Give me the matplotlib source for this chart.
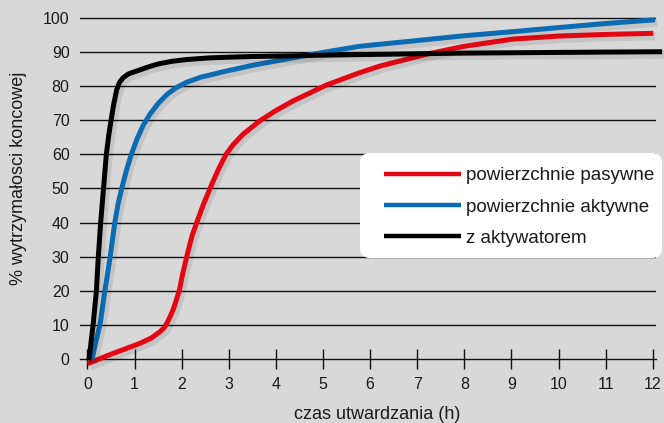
import matplotlib
matplotlib.use("Agg")
import matplotlib.pyplot as plt
import matplotlib.patheffects as pe
from matplotlib.patches import FancyBboxPatch
from matplotlib.transforms import IdentityTransform

plt.rcParams['font.family'] = ['Liberation Sans', 'DejaVu Sans']

# ---- data ----
x_ticks = list(range(0, 13))
y_ticks = list(range(0, 101, 10))

black_x = [0.03, 0.12, 0.19, 0.23, 0.28, 0.34, 0.40, 0.45, 0.50, 0.56, 0.62, 0.68, 0.76, 0.86,
           0.95, 1.04, 1.2, 1.35, 1.53, 1.8, 2.1, 2.59, 3.0, 3.5, 4.35, 5.0, 6.0, 7.0, 8.0,
           9.0, 10.0, 11.0, 12.2]
black_y = [-0.5, 10, 20, 30, 40, 50, 60, 65.5, 70, 75, 79, 81.2, 82.6, 83.6,
           84.1, 84.5, 85.3, 86.0, 86.7, 87.4, 87.9, 88.4, 88.6, 88.8, 89.0, 89.2, 89.4, 89.6, 89.8,
           89.9, 90.0, 90.1, 90.2]

blue_x = [0.09, 0.18, 0.27, 0.37, 0.48, 0.58, 0.65, 0.73, 0.83, 0.93, 1.05, 1.18, 1.32, 1.5,
          1.7, 1.88, 2.1, 2.4, 2.94, 3.5, 4.36, 5.0, 5.77, 6.21, 7.0, 8.0, 9.03, 10.0, 11.0, 12.05]
blue_y = [-0.4, 5, 10.3, 20, 29.8, 40, 45.5, 50.2, 55.5, 60, 64.5, 68.5, 71.7, 75,
          77.8, 79.6, 81.2, 82.7, 84.5, 86.2, 88.4, 90, 91.8, 92.4, 93.5, 94.9, 96.1, 97.3, 98.5, 99.6]

red_x = [0.0, 0.54, 1.1, 1.35, 1.53, 1.63, 1.70, 1.77, 1.84, 1.95, 2.02, 2.12, 2.22, 2.32, 2.46,
         2.65, 2.8, 2.94, 3.1, 3.3, 3.65, 4.0, 4.36, 5.07, 5.77, 6.21, 7.27, 8.0, 9.03, 10.0,
         11.0, 12.01]
red_y = [-1.5, 1.5, 4.4, 6.0, 7.8, 9.1, 10.8, 12.8, 15.2, 20, 24.9, 30.7, 36.1, 40, 45.3,
         51.6, 56.2, 60, 63, 65.9, 69.8, 72.9, 75.7, 80.4, 84.0, 86.0, 89.7, 91.8, 93.9, 94.8,
         95.3, 95.6]

series = [
    ("powierzchnie pasywne", red_x, red_y, "#e30613"),
    ("powierzchnie aktywne", blue_x, blue_y, "#0b6cb4"),
    ("z aktywatorem", black_x, black_y, "#000000"),
]

# ---- figure ----
W, H = 664, 423
fig = plt.figure(figsize=(W / 100, H / 100), dpi=100, facecolor="#d8d8d8")
ax = fig.add_axes([80 / W, 1 - 370 / H, 576 / W, 355 / H])
ax.set_facecolor("none")
ax.set_xlim(-0.159, 12.07)
ax.set_ylim(-3.36, 101.0)

for s in ["top", "right", "left"]:
    ax.spines[s].set_visible(False)
ax.spines["bottom"].set_position(("data", 0))
ax.spines["bottom"].set_linewidth(1.0)
ax.spines["bottom"].set_color("#111111")

for yv in y_ticks[1:]:
    ax.axhline(yv, color="#111111", lw=1.0, zorder=1)

ax.set_yticks(y_ticks)
ax.set_yticklabels([str(v) for v in y_ticks])
ax.tick_params(axis="y", length=0, pad=7.5, labelsize=11.5, labelcolor="#1a1a1a")
ax.set_xticks(x_ticks)
ax.set_xticklabels([str(v) for v in x_ticks])
ax.tick_params(axis="x", direction="inout", length=15, width=1.0, color="#111111",
               pad=5.5, labelsize=11.5, labelcolor="#1a1a1a")

shadow = [pe.SimpleLineShadow(offset=(1.5, -2), shadow_color="black", alpha=0.09, linewidth=6),
          pe.Normal()]
for label, xs, ys, c in series:
    ax.plot(xs, ys, color=c, lw=3.6, solid_joinstyle="round", solid_capstyle="butt",
            label=label, zorder=3, clip_on=False, path_effects=shadow)

ax.set_xlabel("czas utwardzania (h)", fontsize=13, color="#1a1a1a")
ax.xaxis.set_label_coords((377 - 80) / 576, -(406 - 370) / 355)
ax.set_ylabel("% wytrzymałosci koncowej", fontsize=13, color="#1a1a1a")
ax.yaxis.set_label_coords(-(80 - 27) / 576, (370 - 178) / 355)

# legend backdrop (pixel coordinates, origin bottom-left) + legend
box = FancyBboxPatch((360, H - 258), 302, 105,
                     boxstyle="round,pad=0.0,rounding_size=10",
                     transform=IdentityTransform(), facecolor="white", edgecolor="none", zorder=4)
fig.patches.append(box)
handles, labels = ax.get_legend_handles_labels()
leg = fig.legend(handles, labels, loc="upper left", bbox_to_anchor=(384 / W, 1 - 167 / H),
                 bbox_transform=fig.transFigure, frameon=False, fontsize=13.5,
                 handlelength=4.1, handletextpad=0.3, labelspacing=0.76, borderpad=0,
                 borderaxespad=0)
leg.set_zorder(5)
for line in leg.get_lines():
    line.set_linewidth(3.2)
    line.set_path_effects([])
for t in leg.get_texts():
    t.set_color("#1a1a1a")

fig.savefig("out.png", dpi=100, facecolor=fig.get_facecolor())
